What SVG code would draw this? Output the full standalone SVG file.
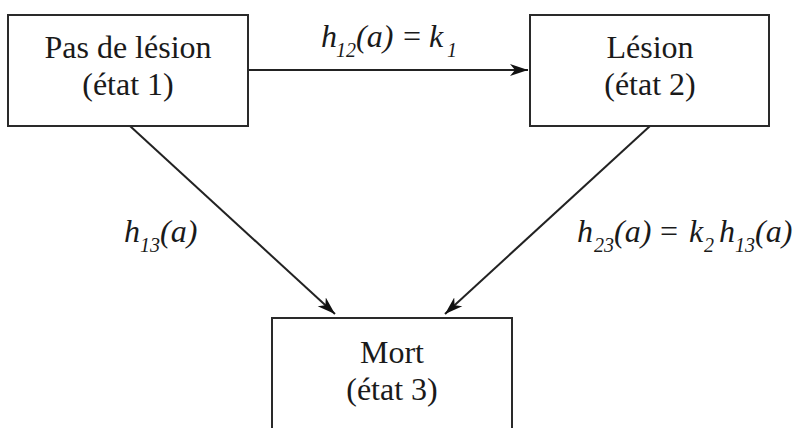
<svg xmlns="http://www.w3.org/2000/svg" width="796" height="428" viewBox="0 0 796 428">
<style>
.box{fill:#fff;stroke:#2a2a2a;stroke-width:2}
text{font-family:'Liberation Serif','DejaVu Serif',serif;fill:#1a1a1a}
.lbl{font-size:32px;text-anchor:middle}
.m{font-size:32px;font-style:italic}
.sub{font-size:20px}
.up{font-style:normal}
.edge{stroke:#222;stroke-width:2;fill:none;marker-end:url(#arr)}
</style>
<defs>
<marker id="arr" markerUnits="userSpaceOnUse" markerWidth="20" markerHeight="14" refX="18" refY="7" orient="auto">
<path d="M0,1 L18,7 L0,13 L5,7 z" fill="#111"/>
</marker>
</defs>
<rect width="796" height="428" fill="#fff"/>
<g id="connectors">
<line class="edge" x1="248" y1="70" x2="528" y2="70"/>
<line class="edge" x1="130" y1="126" x2="335" y2="314"/>
<line class="edge" x1="650" y1="126" x2="445" y2="314"/>
<text class="m" y="47"><tspan x="321">h</tspan><tspan class="sub" x="336" y="57">12</tspan><tspan x="356" y="47">(a)</tspan><tspan class="up" x="403">=</tspan><tspan x="429">k</tspan><tspan class="sub" x="447" y="57">1</tspan></text>
<text class="m" y="242"><tspan x="124">h</tspan><tspan class="sub" x="140" y="252">13</tspan><tspan x="160" y="242">(a)</tspan></text>
<text class="m" y="242"><tspan x="577">h</tspan><tspan class="sub" x="594" y="252">23</tspan><tspan x="614" y="242">(a)</tspan><tspan class="up" x="660">=</tspan><tspan x="689">k</tspan><tspan class="sub" x="704" y="252">2</tspan><tspan x="719" y="242">h</tspan><tspan class="sub" x="735" y="252">13</tspan><tspan x="755" y="242">(a)</tspan></text>
</g>
<g id="n1">
<rect class="box" x="8" y="15" width="240" height="111"/>
<text class="lbl" x="128" y="58">Pas de lésion</text>
<text class="lbl" x="128" y="95">(état 1)</text>
</g>
<g id="n2">
<rect class="box" x="530" y="15" width="239" height="111"/>
<text class="lbl" x="650" y="58">Lésion</text>
<text class="lbl" x="650" y="95">(état 2)</text>
</g>
<g id="n3">
<rect class="box" x="272" y="318" width="240" height="130"/>
<text class="lbl" x="392" y="363">Mort</text>
<text class="lbl" x="392" y="400">(état 3)</text>
</g>
</svg>
